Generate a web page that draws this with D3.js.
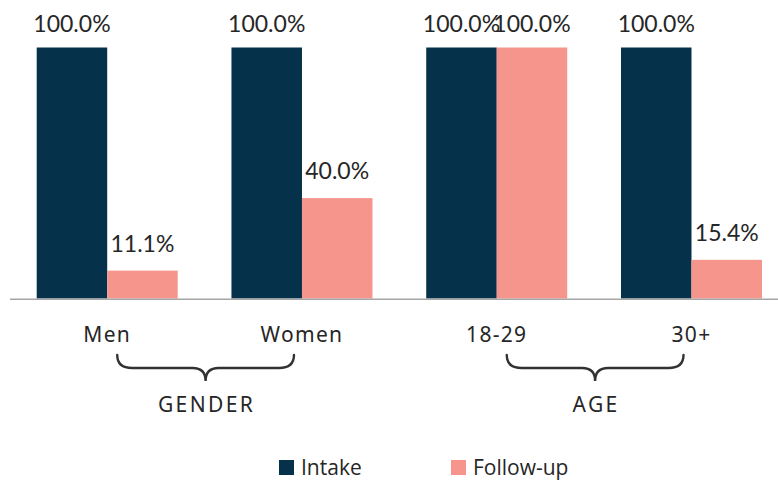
<!DOCTYPE html>
<html>
<head>
<meta charset="utf-8">
<script src="https://cdn.jsdelivr.net/npm/d3@7"></script>
<style>
  html, body { margin: 0; padding: 0; background: #fff; }
  svg { display: block; }
</style>
</head>
<body>
<svg id="chart" width="778" height="483"></svg>
<script>
// Categories, grouped under two headings
const categories = ["Men", "Women", "18-29", "30+"];
const groups = [
  { name: "GENDER", members: ["Men", "Women"] },
  { name: "AGE", members: ["18-29", "30+"] }
];
const seriesNames = ["Intake", "Follow-up"];
const intake = [100.0, 100.0, 100.0, 100.0];
const followUp = [11.1, 40.0, 100.0, 15.4];
const colors = ["#05324a", "#f5958b"];

const svg = d3.select("#chart");
const W = 778, H = 483;
const baseY = 298.5, topY = 47.5;

const x = d3.scaleBand().domain(categories).range([36.7, 762]).paddingInner(0.276).paddingOuter(0);
const xs = d3.scaleBand().domain(seriesNames).range([0, x.bandwidth()]).padding(0);
const y = d3.scaleLinear().domain([0, 100]).range([baseY, topY]);

const rows = categories.map((c, i) => ({ cat: c, values: [intake[i], followUp[i]] }));

const defs = svg.append("defs");
defs.append("filter").attr("id", "soft")
  .append("feGaussianBlur").attr("stdDeviation", 0.7);

// Bars
const g = svg.append("g").selectAll("g").data(rows).join("g")
  .attr("transform", d => `translate(${x(d.cat)},0)`);

g.selectAll("rect").data(d => d.values.map((v, j) => ({ s: seriesNames[j], v, j })))
  .join("rect")
  .attr("x", d => xs(d.s))
  .attr("y", d => y(d.v))
  .attr("width", xs.bandwidth())
  .attr("height", d => y(0) - y(d.v))
  .attr("fill", d => colors[d.j]);

// Value labels
g.selectAll("text").data(d => d.values.map((v, j) => ({ s: seriesNames[j], v, j })))
  .join("text")
  .attr("x", d => xs(d.s) + xs.bandwidth() / 2)
  .attr("y", d => Math.max(y(d.v) - 19, 32))
  .attr("text-anchor", "middle")
  .attr("font-family", "Lato, 'Liberation Sans', sans-serif")
  .attr("font-size", 23)
  .attr("fill", "#262626")
  .text(d => d.v.toFixed(1) + "%");

// Baseline axis
const axis = d3.axisBottom(x).tickSize(0).tickPadding(0);
const axisG = svg.append("g").attr("transform", `translate(0,${baseY + 0.8})`).call(axis);
axisG.select(".domain").attr("d", `M10,0H${W}`).attr("stroke", "#a6a6a6").attr("stroke-width", 1.5);
axisG.selectAll(".tick text")
  .attr("y", 42.5)
  .attr("dy", 0)
  .attr("font-family", "'Noto Sans', sans-serif")
  .attr("font-size", 21)
  .attr("letter-spacing", 1.3)
  .attr("fill", "#262626");

// Group braces and headings
const braceY = 355, braceMid = 368, braceTip = 381;
groups.forEach(gr => {
  const c0 = x(gr.members[0]) + x.bandwidth() / 2;
  const c1 = x(gr.members[gr.members.length - 1]) + x.bandwidth() / 2;
  const x0 = c0 + 10, x1 = c1 - 8;
  const m = (x0 + x1) / 2;
  const p = d3.path();
  p.moveTo(x0, braceY);
  p.quadraticCurveTo(x0, braceMid, x0 + 15, braceMid);
  p.lineTo(m - 13, braceMid);
  p.quadraticCurveTo(m, braceMid, m, braceTip);
  p.quadraticCurveTo(m, braceMid, m + 13, braceMid);
  p.lineTo(x1 - 15, braceMid);
  p.quadraticCurveTo(x1, braceMid, x1, braceY);
  svg.append("path").attr("d", p.toString())
    .attr("fill", "none").attr("stroke", "#333").attr("stroke-width", 2.4)
    .attr("stroke-linecap", "round").attr("filter", "url(#soft)");
  svg.append("text")
    .attr("x", m + 1).attr("y", 411.5)
    .attr("text-anchor", "middle")
    .attr("font-family", "'Noto Sans', sans-serif")
    .attr("font-size", 21)
    .attr("letter-spacing", 2.4)
    .attr("fill", "#262626")
    .text(gr.name);
});

// Legend
const legendX = [279, 451];
const lg = svg.append("g").selectAll("g").data(seriesNames).join("g")
  .attr("transform", (d, i) => `translate(${legendX[i]},460)`);
lg.append("rect").attr("width", 15).attr("height", 15).attr("fill", (d, i) => colors[i]);
lg.append("text").attr("x", 22).attr("y", 15)
  .attr("font-family", "'Open Sans', sans-serif")
  .attr("font-size", 21)
  .attr("fill", "#262626")
  .text(d => d);
</script>
</body>
</html>
